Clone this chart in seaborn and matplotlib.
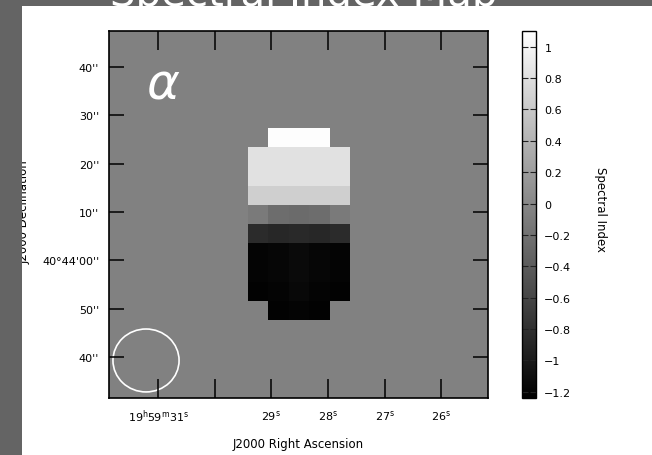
import numpy as np
import pandas as pd
import matplotlib
matplotlib.use("Agg")
import matplotlib.pyplot as plt
from matplotlib.patches import Rectangle, Ellipse
import seaborn as sns

# ---------------- data ----------------
background_value = -0.06
# spectral index of the source block (10 rows x 5 columns); None = background
source_rows = [
    [None, 1.08, 1.08, 1.08, None],
    [0.82, 0.82, 0.82, 0.82, 0.82],
    [0.82, 0.82, 0.82, 0.82, 0.82],
    [0.66, 0.66, 0.66, 0.66, 0.66],
    [-0.12, -0.24, -0.26, -0.24, -0.12],
    [-0.84, -0.88, -0.86, -0.88, -0.84],
    [-1.20, -1.18, -1.14, -1.18, -1.20],
    [-1.20, -1.18, -1.14, -1.18, -1.20],
    [-1.22, -1.20, -1.16, -1.20, -1.22],
    [None, -1.22, -1.20, -1.22, None],
]
n_rows, n_cols = 21, 19
source_row0, source_col0 = 6, 7

ra_seconds = [31, 30, 29, 28, 27, 26]
ra_labels = [r"19$^{\rm h}$59$^{\rm m}$31$^{\rm s}$", "",
             r"29$^{\rm s}$", r"28$^{\rm s}$", r"27$^{\rm s}$", r"26$^{\rm s}$"]
dec_offsets = [40, 30, 20, 10, 0, -10, -20]
dec_labels = ["40''", "30''", "20''", "10''", "40\u00b044'00''", "50''", "40''"]

cbar_ticks = [1, 0.8, 0.6, 0.4, 0.2, 0, -0.2, -0.4, -0.6, -0.8, -1, -1.2]
cbar_labels = ["1", "0.8", "0.6", "0.4", "0.2", "0", "\u22120.2", "\u22120.4",
               "\u22120.6", "\u22120.8", "\u22121", "\u22121.2"]
vmin, vmax = -1.24, 1.10

# beam (in map cells)
beam_center = (2.0, 18.08)
beam_size = (3.24, 3.27)

# coordinate mapping (map cells)
ra31_col = 2.588
cells_per_sec = 2.775
dec0_row = 12.873
cells_per_arcsec = 0.2509

# ---------------- build grid ----------------
grid = np.full((n_rows, n_cols), background_value, dtype=float)
for i, row in enumerate(source_rows):
    for j, v in enumerate(row):
        if v is not None:
            grid[source_row0 + i, source_col0 + j] = v
df = pd.DataFrame(grid)

# ---------------- figure ----------------
W, H = 652, 456
fig = plt.figure(figsize=(W / 100, H / 100), dpi=100, facecolor="white")

def fbox(x0, y0, x1, y1):
    return [x0 / W, 1 - y1 / H, (x1 - x0) / W, (y1 - y0) / H]

ax = fig.add_axes(fbox(109, 32, 488, 399))
cax = fig.add_axes(fbox(522, 32, 536, 399))

sns.heatmap(df, ax=ax, cbar_ax=cax, cmap="gray", vmin=vmin, vmax=vmax,
            xticklabels=False, yticklabels=False)

ax.set_xlim(0.186, 18.76)
ax.set_ylim(20.03, 0.961)

for s in ax.spines.values():
    s.set_visible(True)
    s.set_color("black")
    s.set_linewidth(1.2)

xt = [ra31_col + (31 - r) * cells_per_sec for r in ra_seconds]
yt = [dec0_row - d * cells_per_arcsec for d in dec_offsets]
ax.set_xticks(xt)
ax.set_xticklabels(ra_labels, fontsize=8)
ax.set_yticks(yt)
ax.set_yticklabels(dec_labels, fontsize=8, rotation=0)
ax.tick_params(axis="x", direction="in", length=14, width=1.1, color="black",
               top=True, bottom=True, pad=7)
ax.tick_params(axis="y", direction="in", length=11, width=1.1, color="black",
               left=True, right=True, pad=7)

ax.set_xlabel("J2000 Right Ascension", fontsize=8.5, labelpad=9)
ax.set_ylabel("")

ax.add_patch(Ellipse(beam_center, beam_size[0], beam_size[1], fill=False,
                     edgecolor="white", linewidth=1.2))

ax.text(163 / W, 1 - 85 / H, "\u03b1", transform=fig.transFigure, color="white",
        fontsize=36, fontstyle="italic", ha="center", va="center")

# colorbar
cbar = ax.collections[0].colorbar
cbar.set_ticks(cbar_ticks)
cbar.set_ticklabels(cbar_labels)
cbar.outline.set_edgecolor("black")
cbar.outline.set_linewidth(1.0)
cax.tick_params(direction="in", length=4, width=0.8, left=True, right=True,
                labelsize=8, pad=6, color="#222222")
fig.text(600 / W, 1 - 210 / H, "Spectral Index", rotation=270, fontsize=8.5,
         ha="center", va="center")

# y label (partly hidden behind the slide margin)
fig.text(24 / W, 1 - 212 / H, "J2000 Declination", rotation=90, fontsize=8.5,
         ha="center", va="center", zorder=1)

gray = "#646464"
fig.add_artist(Rectangle((0, 0), 22 / W, 1, transform=fig.transFigure,
                         facecolor=gray, edgecolor="none", zorder=10))
fig.add_artist(Rectangle((0, 1 - 7 / H), 1, 7 / H, transform=fig.transFigure,
                         facecolor=gray, edgecolor="none", zorder=10))
fig.text(304 / W, 1 - 6 / H, "Spectral Index Map", color="white", fontsize=29,
         ha="center", va="baseline", zorder=11)

fig.savefig("out.png", dpi=100, facecolor="white")
